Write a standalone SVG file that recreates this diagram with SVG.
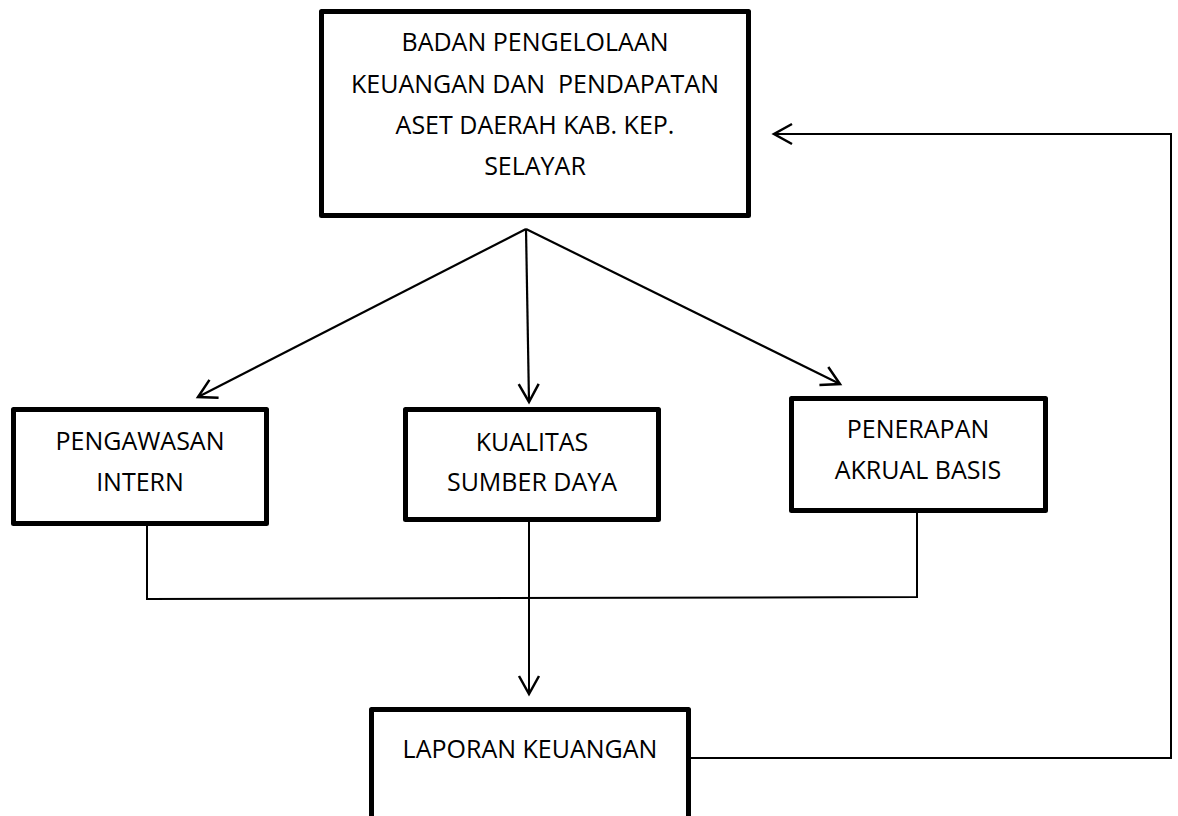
<svg xmlns="http://www.w3.org/2000/svg" width="1178" height="816" viewBox="0 0 1178 816">
  <style>
    .box { fill: #ffffff; stroke: #000000; stroke-width: 5; stroke-linejoin: round; }
    .lbl { font-family: "Open Sans", "Liberation Sans", sans-serif; font-size: 25px; fill: #000000; text-anchor: middle; white-space: pre; }
    .wire { fill: none; stroke: #000000; stroke-width: 2; }
    .arr { fill: none; stroke: #000000; stroke-width: 2.2; }
  </style>
  <defs>
    <marker id="open" markerUnits="userSpaceOnUse" viewBox="-22 -13 26 26" markerWidth="26" markerHeight="26" refX="0" refY="0" orient="auto" overflow="visible">
      <path d="M-18,-10 L0,0 L-18,10" fill="none" stroke="#000000" stroke-width="2.5" stroke-linejoin="miter"/>
    </marker>
  </defs>
  <rect width="1178" height="816" fill="#ffffff"/>

  <g id="connectors">
    <line class="arr" x1="526" y1="229" x2="198" y2="397" marker-end="url(#open)"/>
    <line class="arr" x1="526" y1="229" x2="529" y2="402" marker-end="url(#open)"/>
    <line class="arr" x1="526" y1="229" x2="840" y2="384" marker-end="url(#open)"/>
    <polyline class="wire" points="147,526 147,599 917,597 917,513"/>
    <line class="wire" x1="529" y1="522" x2="529" y2="694" marker-end="url(#open)"/>
    <polyline class="wire" points="691,758 1171,758 1171,134 774,134" marker-end="url(#open)"/>
  </g>

  <g id="node-badan">
    <rect class="box" x="321.5" y="11.5" width="427" height="204"/>
    <text class="lbl" x="535" y="51">BADAN PENGELOLAAN</text>
    <text class="lbl" x="535" y="93">KEUANGAN DAN  PENDAPATAN</text>
    <text class="lbl" x="535" y="134">ASET DAERAH KAB. KEP.</text>
    <text class="lbl" x="535" y="175">SELAYAR</text>
  </g>

  <g id="node-pengawasan">
    <rect class="box" x="13.5" y="409.5" width="253" height="114"/>
    <text class="lbl" x="140" y="450">PENGAWASAN</text>
    <text class="lbl" x="140" y="491">INTERN</text>
  </g>

  <g id="node-kualitas">
    <rect class="box" x="405.5" y="409.5" width="253" height="110"/>
    <text class="lbl" x="532" y="451">KUALITAS</text>
    <text class="lbl" x="532" y="491">SUMBER DAYA</text>
  </g>

  <g id="node-penerapan">
    <rect class="box" x="791.5" y="398.5" width="254" height="112"/>
    <text class="lbl" x="918" y="438">PENERAPAN</text>
    <text class="lbl" x="918" y="479">AKRUAL BASIS</text>
  </g>

  <g id="node-laporan">
    <rect class="box" x="371.5" y="709.5" width="317" height="130"/>
    <text class="lbl" x="530" y="758">LAPORAN KEUANGAN</text>
  </g>
</svg>
